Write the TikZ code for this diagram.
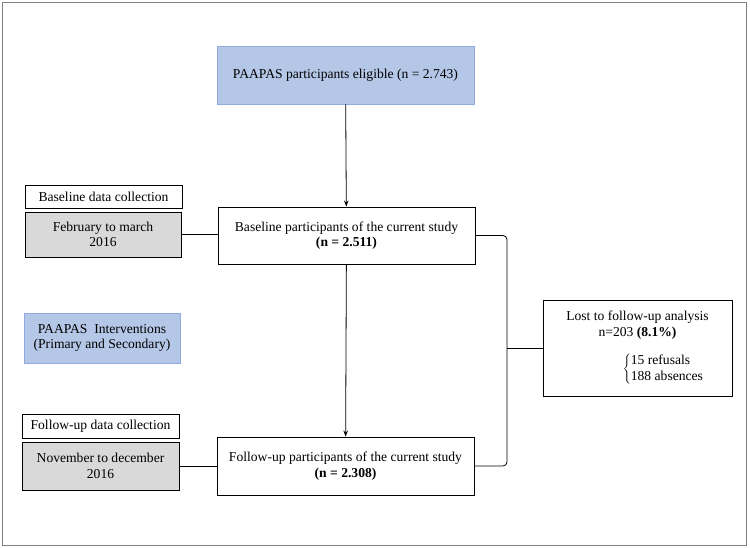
\documentclass[tikz,border=0pt]{standalone}
\usepackage{fontspec}
\setmainfont{Liberation Serif}
\usepackage{tikz}
\usetikzlibrary{arrows.meta,positioning}

\definecolor{paleblue}{HTML}{B4C7E7}
\definecolor{blueline}{HTML}{8FAADC}
\definecolor{palegrey}{HTML}{D9D9D9}
\definecolor{framegrey}{HTML}{7F7F7F}

\tikzset{
    box/.style={draw, rectangle, align=center, inner sep=2pt, line width=0.9pt},
    bluebox/.style={box, draw=blueline, fill=paleblue},
    greybox/.style={box, fill=palegrey},
    flowline/.style={line width=0.8pt},
}

\begin{document}
\begin{tikzpicture}[x=1pt, y=-1pt, >={Stealth[length=6pt,width=4.5pt]}, font=\fontsize{13.6}{15.5}\selectfont]
    \useasboundingbox (0,0) rectangle (750,548);
    \draw[framegrey, line width=1.6pt] (2.5,2.5) rectangle (746.5,545.5);

    % main column
    \node[bluebox, minimum width=257pt, minimum height=58pt] (eligible) at (345.5,75) {PAAPAS participants eligible (n = 2.743)};
    \node[box, minimum width=257pt, minimum height=57pt] (baseline) at (346.5,235.5) {Baseline participants of the current study\\\textbf{(n = 2.511)}};
    \node[box, minimum width=257pt, minimum height=58pt] (followup) at (345.5,466) {Follow-up participants of the current study\\\textbf{(n = 2.308)}};

    % left column
    \node[box, minimum width=157pt, minimum height=23pt] (baselabel) at (103.5,196.5) {Baseline data collection};
    \node[greybox, minimum width=156pt, minimum height=45pt] (basedate) at (103,234.5) {February to march\\2016};
    \node[bluebox, minimum width=156pt, minimum height=50pt] (interv) at (102,338) {PAAPAS\ \ Interventions\\(Primary and Secondary)};
    \node[box, minimum width=157pt, minimum height=24pt] (followlabel) at (100.5,426) {Follow-up data collection};
    \node[greybox, minimum width=157pt, minimum height=48pt] (followdate) at (100.5,466) {November to december\\2016};

    % lost to follow-up
    \node[box, minimum width=189pt, minimum height=96pt] (lost) at (637.5,348) {Lost to follow-up analysis\\n=203 \textbf{(8.1\%)}\\[14pt]
        \hspace*{52pt}$\left\{\begin{tabular}{@{}l@{}}15 refusals\\188 absences\end{tabular}\right.$};
    \coordinate (split) at (507,348);

    \draw[->, flowline] (eligible) -- (baseline);
    \draw[->, flowline] (baseline) -- (followup);
    \draw[flowline] (basedate) -- (basedate -| baseline.west);
    \draw[flowline] (followdate) -- (followdate -| followup.west);
    \draw[flowline, rounded corners=4pt] (baseline.east) -| (split) |- (followup.east);
    \draw[flowline] (split) -- (lost);
\end{tikzpicture}
\end{document}
